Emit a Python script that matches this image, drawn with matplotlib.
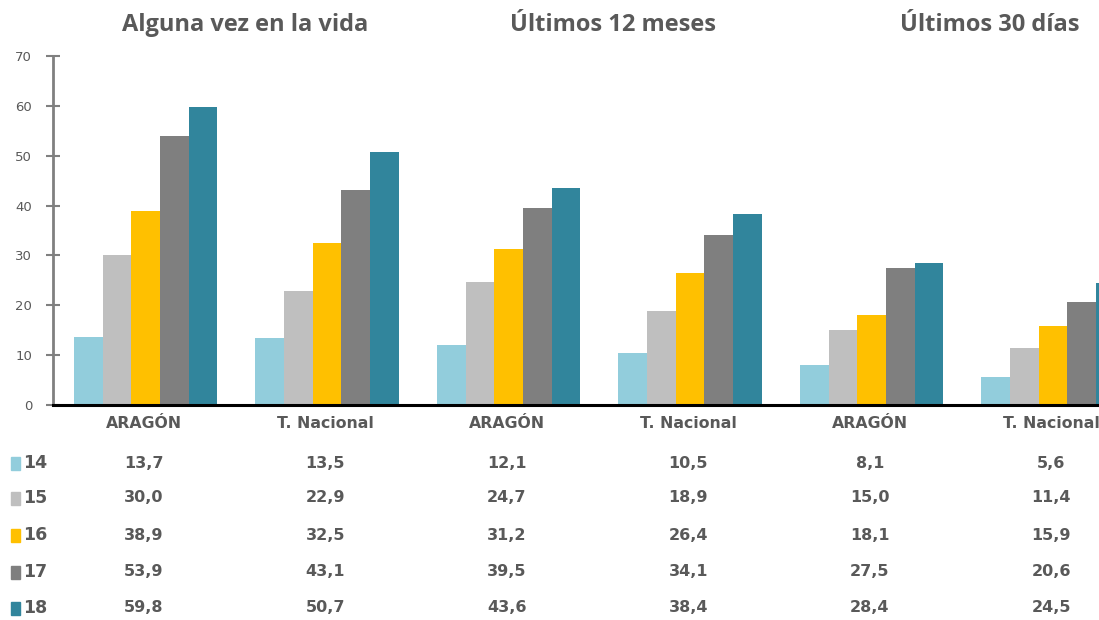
import matplotlib
matplotlib.use("Agg")
import matplotlib.pyplot as plt
import matplotlib.transforms as mtransforms
from matplotlib.patches import Rectangle
import numpy as np

categories = ["ARAGÓN", "T. Nacional", "ARAGÓN", "T. Nacional", "ARAGÓN", "T. Nacional"]
series_names = ["14", "15", "16", "17", "18"]
v14 = [13.7, 13.5, 12.1, 10.5, 8.1, 5.6]
v15 = [30.0, 22.9, 24.7, 18.9, 15.0, 11.4]
v16 = [38.9, 32.5, 31.2, 26.4, 18.1, 15.9]
v17 = [53.9, 43.1, 39.5, 34.1, 27.5, 20.6]
v18 = [59.8, 50.7, 43.6, 38.4, 28.4, 24.5]
group_titles = ["Alguna vez en la vida", "Últimos 12 meses", "Últimos 30 días"]
yticks = [0, 10, 20, 30, 40, 50, 60, 70]

series = [v14, v15, v16, v17, v18]
colors = ["#92CDDC", "#BFBFBF", "#FFC000", "#7F7F7F", "#31859C"]
txt = "#595959"

W, H = 1099, 620
fig = plt.figure(figsize=(W / 100, H / 100), dpi=100)
left = 53 / W
right_px = 53 + 6 * 181.5
ax = fig.add_axes([left, 1 - 405 / H, (right_px - 53) / W, (405 - 56) / H])

x = np.arange(len(categories))
bw = 0.79 / 5
for i, (vals, c) in enumerate(zip(series, colors)):
    ax.bar(x - 0.385 + bw * (i + 0.5), vals, width=bw, color=c, linewidth=0)

ax.set_xlim(-0.5, len(categories) - 0.5)
ax.set_ylim(0, 70)
ax.set_yticks(yticks)
ax.set_yticklabels([str(t) for t in yticks], color=txt, fontsize=9.5, family="DejaVu Sans")
ax.tick_params(axis="y", direction="inout", length=10, width=1.5, color="#808080", pad=10)
ax.set_xticks([])
for s in ["top", "right"]:
    ax.spines[s].set_visible(False)
ax.spines["left"].set_color("#808080")
ax.spines["left"].set_linewidth(2)
ax.spines["bottom"].set_color("black")
ax.spines["bottom"].set_linewidth(2.2)

blend = mtransforms.blended_transform_factory(ax.transData, fig.transFigure)

# group titles (positioned in figure pixels)
title_x = [245, 613, 990]
for t, xp in zip(group_titles, title_x):
    fig.text(xp / W, 1 - 25 / H, t, ha="center", va="center",
             fontsize=17, fontweight="bold", color=txt, family="Open Sans")

# category labels
for i, c in enumerate(categories):
    fig.text(i, 1 - 424 / H, c, transform=blend, ha="center", va="center",
             fontsize=11.3, fontweight="bold", color=txt, family="DejaVu Sans")

# data table
row_y = [463, 498, 535, 572, 608]
for r, (name, vals, c) in enumerate(zip(series_names, series, colors)):
    yy = 1 - row_y[r] / H
    fig.patches.append(Rectangle((11 / W, yy - 6.5 / H), 9 / W, 13 / H,
                                 transform=fig.transFigure, color=c, figure=fig))
    fig.text(23 / W, yy, name, ha="left", va="center", fontsize=12.5,
             fontweight="bold", color=txt, family="DejaVu Sans")
    for i, v in enumerate(vals):
        fig.text(i, yy, f"{v:.1f}".replace(".", ","), transform=blend,
                 ha="center", va="center", fontsize=11.5, fontweight="bold",
                 color=txt, family="DejaVu Sans")

fig.savefig("out.png", dpi=100)
